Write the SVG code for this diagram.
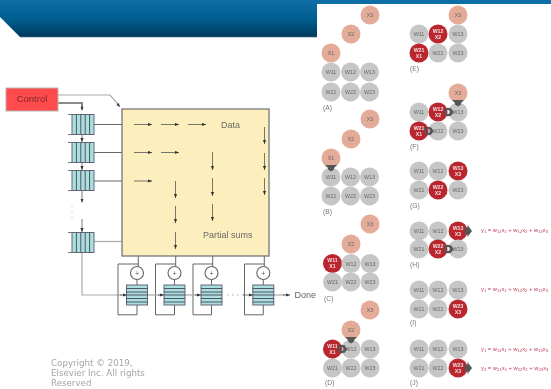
<svg xmlns="http://www.w3.org/2000/svg" width="551" height="389" viewBox="0 0 551 389">
<style>
text{font-family:"Liberation Sans",Arial,sans-serif}
.ln{fill:none;stroke:#777;stroke-width:1}
.lg{fill:none;stroke:#aaa;stroke-width:1.2}
.ld{fill:none;stroke:#666;stroke-width:1}
.ar{fill:none;stroke:#555;stroke-width:.8;marker-end:url(#a)}
.arg{fill:none;stroke:#aaa;stroke-width:1;marker-end:url(#a)}
.g{fill:#c6c6c6}.x{fill:#e3ab98}.r{fill:#b9252f}
.t{font-size:5.3px;fill:#666;text-anchor:middle}
.w{font-size:5.2px;fill:#f6e0e0;font-weight:bold;text-anchor:middle}
.p{font-size:6.8px;fill:#777}
.e{font-size:5.8px;fill:#c0405a}
.s{font-size:4.2px}
.reg{fill:#abdfdf;stroke:#667;stroke-width:1}
.v{stroke:#445;stroke-width:.9;fill:none}
.add{fill:#fff;stroke:#666;stroke-width:1.1}
.c{font-size:8.7px;fill:#a5a5a5;font-family:"DejaVu Sans",sans-serif}
.ad{font-size:7px;fill:#555;text-anchor:middle}
</style>
<defs>
<filter id="soft" x="0" y="0" width="100%" height="100%"><feGaussianBlur stdDeviation=".4"/></filter>
<linearGradient id="hg" x1="0" y1="0" x2="0" y2="1"><stop offset="0" stop-color="#076ea6"/><stop offset=".5" stop-color="#065f91"/><stop offset="1" stop-color="#04395d"/></linearGradient>
<marker id="a" markerWidth="5" markerHeight="5" refX="4" refY="2" orient="auto" markerUnits="userSpaceOnUse"><path d="M0,.4L4,2L0,3.6z" fill="#333"/></marker>
<g id="dn"><path d="M-6,-3H6L3,0V1.5L0,3.5L-3,1.5V0z" fill="#555"/></g>
<g id="ring"><circle r="3.2" fill="none" stroke="#555" stroke-width="2.2"/><path d="M2.5,-4.5L5.5,0L2.5,4.5z" fill="#555"/></g>
<g id="out"><path d="M7,-3.5H9.5V-6L14,0L9.5,6V3.5H7z" fill="#555"/></g>
<g id="hr"><rect x="-10.5" y="0" width="21" height="20" class="reg"/><path class="v" d="M-10.5,3.5H10.5M-10.5,7H10.5M-10.5,10H10.5M-10.5,13.5H10.5M-10.5,17H10.5"/></g>
<g id="vr"><path d="M-14,0H11M-14,20H11" stroke="#777" stroke-width="1" fill="none"/><rect x="-10" y="0" width="22" height="20" class="reg"/><path class="v" d="M-5.6,0V20M-1.2,0V20M3.2,0V20M7.6,0V20"/></g>
</defs>

<rect id="slide-bg" width="551" height="389" fill="#fff"/>
<g id="all" filter="url(#soft)">
<path id="header" d="M0,0H317V37H20L0,17z" fill="url(#hg)"/>
<path d="M20,37.3H317" stroke="#9fb2c0" stroke-width=".8"/>
<rect width="551" height="4" fill="#076ea6"/>

<g id="connectors">
<path class="lg" d="M58,95H110L118,104"/>
<path class="arg" d="M116,102L120,107"/>
<path d="M58,103H82V107" fill="none" stroke="#666" stroke-width="1.5"/>
<path class="ar" d="M82,105V110.5"/>
<path class="ld" d="M94,124.5H122"/><path class="ld" d="M94,152.5H122"/><path class="ld" d="M94,181H122"/>
<path class="lg" d="M94,241.5H122"/>
<path class="ar" d="M82,134.5V142"/><path class="ar" d="M82,162.5V170"/><path class="ar" d="M82,190.5V202.5"/><path class="ar" d="M82,219V232"/>
<path d="M72,206v1M72,212v1M72,216.500v1" stroke="#bbb" stroke-width="1"/>
<path class="lg" d="M82,252.500V295H122"/><path class="ar" d="M120,295H127"/>
<path class="ld" d="M138.300,256V266.500M175.700,256V266.500M212.700,256V266.500M264.300,256V266.500"/>
<path class="ld" d="M137,279.500V285M174.500,279.500V285M211.500,279.500V285M263.300,279.500V285"/>
<path class="ld" d="M138.300,264H118V314.800H137V305"/>
<path class="ld" d="M175.700,264H155.500V314.800H174.500V305"/>
<path class="ld" d="M212.700,264H193V314.800H211.500V305"/>
<path class="ld" d="M264.300,264H244.500V314.800H263.300V305"/>
<path class="lg" d="M147,295H160"/><path class="ar" d="M158,295H164"/>
<path class="lg" d="M184.500,295H197"/><path class="ar" d="M195,295H201"/>
<path d="M227,295H243" stroke="#aaa" stroke-width="1" stroke-dasharray="1.500 3.500"/><path class="ar" d="M243,295H253"/>
<path class="lg" d="M273.500,295H285"/><path class="ar" d="M283,295H290"/>
</g>

<g id="control"><rect x="6" y="88" width="52" height="23" fill="#ff4b4b" stroke="#b5b5b5" stroke-width="1"/><text x="32" y="102" font-size="9.500" fill="#7a2a2a" text-anchor="middle">Control</text></g>
<use id="reg1" href="#vr" x="82" y="114.500"/>
<use id="reg2" href="#vr" x="82" y="142.500"/>
<use id="reg3" href="#vr" x="82" y="170.500"/>
<use id="reg4" href="#vr" x="82" y="232.500"/>

<g id="array">
<rect x="122" y="109" width="147" height="147" fill="#fdeebd" stroke="#777" stroke-width="1.300"/>
<path class="ar" d="M134,124.500H152"/><path class="ar" d="M161,124.500H179"/><path class="ar" d="M188,124.500H206"/>
<path class="ar" d="M134,152.500H152"/><path class="ar" d="M161,152.500H179"/><path class="ar" d="M134,181H152"/>
<path class="ar" d="M264.500,127V144"/><path class="ar" d="M264.500,153V170"/><path class="ar" d="M264.500,178V195"/>
<path class="ar" d="M212.500,152V170"/><path class="ar" d="M212.500,178V196"/><path class="ar" d="M212.500,204V221"/>
<path class="ar" d="M175.500,181V198"/><path class="ar" d="M175.500,206V223"/><path class="ar" d="M175.500,232V249"/>
<text x="221" y="128" font-size="9" fill="#6a6a6a">Data</text>
<text x="203" y="238" font-size="9" fill="#6a6a6a">Partial sums</text>
</g>

<g id="add1"><circle class="add" cx="137" cy="273" r="6.500"/><text class="ad" x="137" y="275.500">+</text></g>
<g id="add2"><circle class="add" cx="174.500" cy="273" r="6.500"/><text class="ad" x="174.500" y="275.500">+</text></g>
<g id="add3"><circle class="add" cx="211.500" cy="273" r="6.500"/><text class="ad" x="211.500" y="275.500">+</text></g>
<g id="add4"><circle class="add" cx="263.300" cy="273" r="6.500"/><text class="ad" x="263.300" y="275.500">+</text></g>
<use id="out1" href="#hr" x="137" y="285"/>
<use id="out2" href="#hr" x="174.500" y="285"/>
<use id="out3" href="#hr" x="211.500" y="285"/>
<use id="out4" href="#hr" x="263.300" y="285"/>
<text id="done" x="294.500" y="298" font-size="9" fill="#666">Done</text>

<g id="copyright"><text class="c" x="51" y="366">Copyright © 2019,</text><text class="c" x="51" y="376">Elsevier Inc. All rights</text><text class="c" x="51" y="386">Reserved</text></g>

<rect id="panel-bg" x="317" y="4" width="234" height="385" fill="#fff"/>

<g id="panel-a">
<circle class="x" cx="370" cy="15" r="9.500"/><text class="t" x="370" y="17">X3</text>
<circle class="x" cx="351" cy="34" r="9.500"/><text class="t" x="351" y="36">X2</text>
<circle class="x" cx="331" cy="53" r="9.500"/><text class="t" x="331" y="55">X1</text>
<circle class="g" cx="331" cy="72" r="9.500"/><text class="t" x="331" y="74">W11</text>
<circle class="g" cx="350.500" cy="72" r="9.500"/><text class="t" x="350.500" y="74">W12</text>
<circle class="g" cx="369.500" cy="72" r="9.500"/><text class="t" x="369.500" y="74">W13</text>
<circle class="g" cx="331" cy="92" r="9.500"/><text class="t" x="331" y="94">W21</text>
<circle class="g" cx="350.500" cy="92" r="9.500"/><text class="t" x="350.500" y="94">W22</text>
<circle class="g" cx="369.500" cy="92" r="9.500"/><text class="t" x="369.500" y="94">W23</text>
<text class="p" x="323" y="110">(A)</text>
</g>

<g id="panel-b">
<circle class="x" cx="370" cy="119" r="9.500"/><text class="t" x="370" y="121">X3</text>
<circle class="x" cx="351" cy="139" r="9.500"/><text class="t" x="351" y="141">X2</text>
<circle class="x" cx="331" cy="158" r="9.500"/><text class="t" x="331" y="160">X1</text>
<circle class="g" cx="331" cy="177" r="9.500"/><text class="t" x="331" y="179">W11</text>
<circle class="g" cx="350.500" cy="177" r="9.500"/><text class="t" x="350.500" y="179">W12</text>
<circle class="g" cx="369.500" cy="177" r="9.500"/><text class="t" x="369.500" y="179">W13</text>
<circle class="g" cx="331" cy="196" r="9.500"/><text class="t" x="331" y="198">W21</text>
<circle class="g" cx="350.500" cy="196" r="9.500"/><text class="t" x="350.500" y="198">W22</text>
<circle class="g" cx="369.500" cy="196" r="9.500"/><text class="t" x="369.500" y="198">W23</text>
<use href="#dn" x="331" y="168"/>
<text class="p" x="323" y="214">(B)</text>
</g>

<g id="panel-c">
<circle class="x" cx="370" cy="224" r="9.500"/><text class="t" x="370" y="226">X3</text>
<circle class="x" cx="351" cy="244" r="9.500"/><text class="t" x="351" y="246">X2</text>
<circle class="r" cx="332.500" cy="263.500" r="9.500"/><text class="w" x="332.500" y="262">W11</text><text class="w" x="332.500" y="268">X1</text>
<circle class="g" cx="351" cy="263.500" r="9.500"/><text class="t" x="351" y="265.500">W12</text>
<circle class="g" cx="370" cy="263.500" r="9.500"/><text class="t" x="370" y="265.500">W13</text>
<circle class="g" cx="332.500" cy="282" r="9.500"/><text class="t" x="332.500" y="284">W21</text>
<circle class="g" cx="351" cy="282" r="9.500"/><text class="t" x="351" y="284">W22</text>
<circle class="g" cx="370" cy="282" r="9.500"/><text class="t" x="370" y="284">W23</text>
<text class="p" x="324" y="301">(C)</text>
</g>

<g id="panel-d">
<circle class="x" cx="370" cy="310" r="9.500"/><text class="t" x="370" y="312">X3</text>
<circle class="x" cx="351" cy="330" r="9.500"/><text class="t" x="351" y="332">X2</text>
<circle class="g" cx="351" cy="349" r="9.500"/><text class="t" x="351" y="351">W12</text>
<circle class="g" cx="370" cy="349" r="9.500"/><text class="t" x="370" y="351">W13</text>
<circle class="g" cx="332.500" cy="368" r="9.500"/><text class="t" x="332.500" y="370">W21</text>
<circle class="g" cx="351" cy="368" r="9.500"/><text class="t" x="351" y="370">W22</text>
<circle class="g" cx="370" cy="368" r="9.500"/><text class="t" x="370" y="370">W23</text>
<circle class="r" cx="332.500" cy="349" r="9.500"/><text class="w" x="332.500" y="347.500">W11</text><text class="w" x="332.500" y="353.500">X1</text>
<use href="#ring" x="341.500" y="349"/>
<use href="#dn" x="351" y="340"/>
<text class="p" x="325" y="385">(D)</text>
</g>

<g id="panel-e">
<circle class="x" cx="458" cy="15" r="9.500"/><text class="t" x="458" y="17">X3</text>
<circle class="g" cx="419" cy="34" r="9.500"/><text class="t" x="419" y="36">W11</text>
<circle class="r" cx="438" cy="34" r="9.500"/><text class="w" x="438" y="32.500">W12</text><text class="w" x="438" y="38.500">X2</text>
<circle class="g" cx="458" cy="34" r="9.500"/><text class="t" x="458" y="36">W13</text>
<circle class="r" cx="419" cy="53" r="9.500"/><text class="w" x="419" y="51.500">W21</text><text class="w" x="419" y="57.500">X1</text>
<circle class="g" cx="438" cy="53" r="9.500"/><text class="t" x="438" y="55">W22</text>
<circle class="g" cx="458" cy="53" r="9.500"/><text class="t" x="458" y="55">W23</text>
<text class="p" x="410" y="71">(E)</text>
</g>

<g id="panel-f">
<circle class="x" cx="458" cy="93" r="9.500"/><text class="t" x="458" y="95">X3</text>
<circle class="g" cx="419" cy="112" r="9.500"/><text class="t" x="419" y="114">W11</text>
<circle class="g" cx="458" cy="112" r="9.500"/><text class="t" x="458" y="114">W13</text>
<circle class="r" cx="438" cy="112" r="9.500"/><text class="w" x="438" y="110.500">W12</text><text class="w" x="438" y="116.500">X2</text>
<circle class="g" cx="438" cy="131" r="9.500"/><text class="t" x="438" y="133">W22</text>
<circle class="g" cx="458" cy="131" r="9.500"/><text class="t" x="458" y="133">W23</text>
<circle class="r" cx="419" cy="131" r="9.500"/><text class="w" x="419" y="129.500">W21</text><text class="w" x="419" y="135.500">X1</text>
<use href="#ring" x="448" y="112"/>
<use href="#ring" x="428" y="131"/>
<use href="#dn" x="458" y="103"/>
<text class="p" x="410" y="149">(F)</text>
</g>

<g id="panel-g">
<circle class="g" cx="419" cy="171" r="9.500"/><text class="t" x="419" y="173">W11</text>
<circle class="g" cx="438" cy="171" r="9.500"/><text class="t" x="438" y="173">W12</text>
<circle class="r" cx="458" cy="171" r="9.500"/><text class="w" x="458" y="169.500">W13</text><text class="w" x="458" y="175.500">X3</text>
<circle class="g" cx="419" cy="190" r="9.500"/><text class="t" x="419" y="192">W21</text>
<circle class="r" cx="438" cy="190" r="9.500"/><text class="w" x="438" y="188.500">W22</text><text class="w" x="438" y="194.500">X2</text>
<circle class="g" cx="458" cy="190" r="9.500"/><text class="t" x="458" y="192">W23</text>
<text class="p" x="410" y="208">(G)</text>
</g>

<g id="panel-h">
<circle class="g" cx="419" cy="231" r="9.500"/><text class="t" x="419" y="233">W11</text>
<circle class="g" cx="438" cy="231" r="9.500"/><text class="t" x="438" y="233">W12</text>
<circle class="r" cx="458" cy="231" r="9.500"/><text class="w" x="458" y="229.500">W13</text><text class="w" x="458" y="235.500">X3</text>
<circle class="g" cx="419" cy="249" r="9.500"/><text class="t" x="419" y="251">W21</text>
<circle class="g" cx="458" cy="249" r="9.500"/><text class="t" x="458" y="251">W23</text>
<circle class="r" cx="438" cy="249" r="9.500"/><text class="w" x="438" y="247.500">W22</text><text class="w" x="438" y="253.500">X2</text>
<use href="#out" x="458" y="231"/>
<use href="#ring" x="448" y="249"/>
<text class="p" x="410" y="267">(H)</text>
<text class="e" x="481" y="232">y<tspan class="s" dy="1">1</tspan><tspan dy="-1"> = w</tspan><tspan class="s" dy="1">11</tspan><tspan dy="-1">x</tspan><tspan class="s" dy="1">1</tspan><tspan dy="-1"> + w</tspan><tspan class="s" dy="1">12</tspan><tspan dy="-1">x</tspan><tspan class="s" dy="1">2</tspan><tspan dy="-1"> + w</tspan><tspan class="s" dy="1">13</tspan><tspan dy="-1">x</tspan><tspan class="s" dy="1">3</tspan></text>
</g>

<g id="panel-i">
<circle class="g" cx="419" cy="290" r="9.500"/><text class="t" x="419" y="292">W11</text>
<circle class="g" cx="438" cy="290" r="9.500"/><text class="t" x="438" y="292">W12</text>
<circle class="g" cx="458" cy="290" r="9.500"/><text class="t" x="458" y="292">W13</text>
<circle class="g" cx="419" cy="309" r="9.500"/><text class="t" x="419" y="311">W21</text>
<circle class="g" cx="438" cy="309" r="9.500"/><text class="t" x="438" y="311">W22</text>
<circle class="r" cx="458" cy="309" r="9.500"/><text class="w" x="458" y="307.500">W23</text><text class="w" x="458" y="313.500">X3</text>
<text class="p" x="410" y="325">(I)</text>
<text class="e" x="481" y="291">y<tspan class="s" dy="1">1</tspan><tspan dy="-1"> = w</tspan><tspan class="s" dy="1">11</tspan><tspan dy="-1">x</tspan><tspan class="s" dy="1">1</tspan><tspan dy="-1"> + w</tspan><tspan class="s" dy="1">12</tspan><tspan dy="-1">x</tspan><tspan class="s" dy="1">2</tspan><tspan dy="-1"> + w</tspan><tspan class="s" dy="1">13</tspan><tspan dy="-1">x</tspan><tspan class="s" dy="1">3</tspan></text>
</g>

<g id="panel-j">
<circle class="g" cx="419" cy="349" r="9.500"/><text class="t" x="419" y="351">W11</text>
<circle class="g" cx="438" cy="349" r="9.500"/><text class="t" x="438" y="351">W12</text>
<circle class="g" cx="458" cy="349" r="9.500"/><text class="t" x="458" y="351">W13</text>
<circle class="g" cx="419" cy="368" r="9.500"/><text class="t" x="419" y="370">W21</text>
<circle class="g" cx="438" cy="368" r="9.500"/><text class="t" x="438" y="370">W22</text>
<circle class="r" cx="458" cy="368" r="9.500"/><text class="w" x="458" y="366.500">W23</text><text class="w" x="458" y="372.500">X3</text>
<use href="#out" x="458" y="368"/>
<text class="p" x="410" y="385">(J)</text>
<text class="e" x="481" y="351">y<tspan class="s" dy="1">1</tspan><tspan dy="-1"> = w</tspan><tspan class="s" dy="1">11</tspan><tspan dy="-1">x</tspan><tspan class="s" dy="1">1</tspan><tspan dy="-1"> + w</tspan><tspan class="s" dy="1">12</tspan><tspan dy="-1">x</tspan><tspan class="s" dy="1">2</tspan><tspan dy="-1"> + w</tspan><tspan class="s" dy="1">13</tspan><tspan dy="-1">x</tspan><tspan class="s" dy="1">3</tspan></text>
<text class="e" x="481" y="370">y<tspan class="s" dy="1">2</tspan><tspan dy="-1"> = w</tspan><tspan class="s" dy="1">21</tspan><tspan dy="-1">x</tspan><tspan class="s" dy="1">1</tspan><tspan dy="-1"> + w</tspan><tspan class="s" dy="1">22</tspan><tspan dy="-1">x</tspan><tspan class="s" dy="1">2</tspan><tspan dy="-1"> + w</tspan><tspan class="s" dy="1">23</tspan><tspan dy="-1">x</tspan><tspan class="s" dy="1">3</tspan></text>
</g>
</g>
</svg>
